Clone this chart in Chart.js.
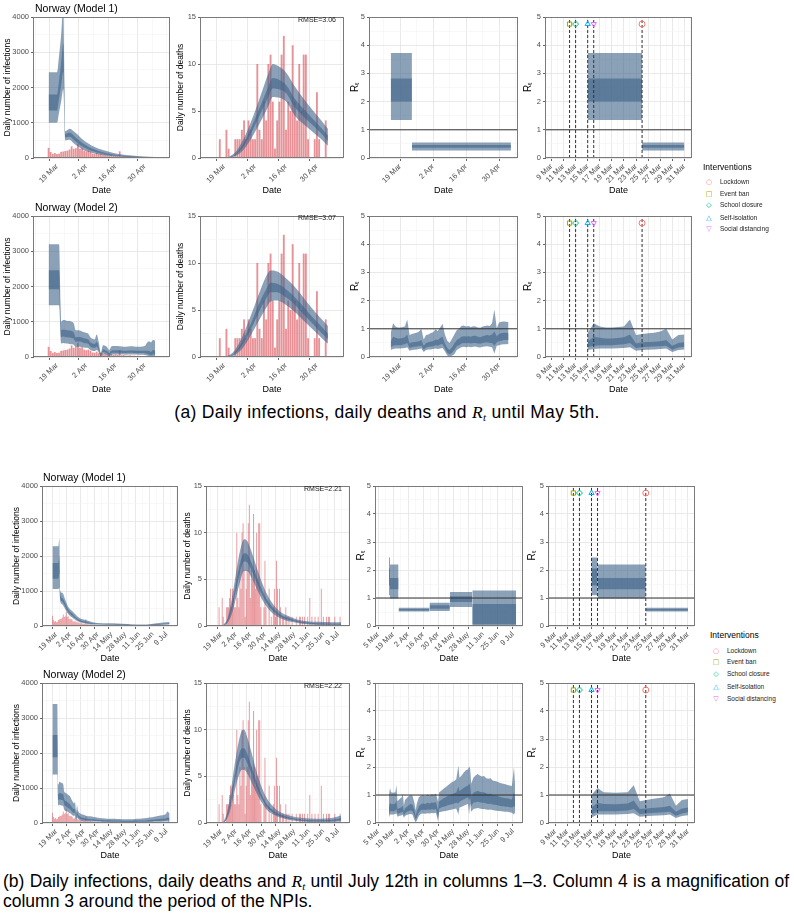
<!DOCTYPE html>
<html lang="en">
<head>
<meta charset="UTF-8">
<title>Norway: daily infections, deaths and Rt</title>
<script src="https://cdn.jsdelivr.net/npm/chart.js"></script>
<style>
  html, body { margin: 0; padding: 0; background: #fff; }
  body { position: relative; width: 794px; height: 919px; overflow: hidden; font-family: "Liberation Sans", Arial, sans-serif; }
  canvas { position: absolute; }
  .t { position: absolute; z-index: 2; white-space: nowrap; }
  .ptitle { font-size: 10.5px; line-height: 12px; color: #000; }
  .rmse { font-size: 7px; line-height: 8px; color: #1a1a1a; }
  .legtitle { font-size: 8.5px; line-height: 10px; color: #000; }
  .legitem { font-size: 6.5px; line-height: 8px; color: #1a1a1a; }
  .sym { position: absolute; z-index: 2; font-family: "DejaVu Sans", sans-serif; font-size: 7px; line-height: 8px; width: 10px; text-align: center; }
  .cap { position: absolute; font-size: 17.5px; letter-spacing: 0.3px; line-height: 20px; color: #000; white-space: nowrap; }
  .cap.b { letter-spacing: 0; }
  .cap i { font-family: "Liberation Serif", serif; }
  .cap sub { font-size: 11px; line-height: 0; vertical-align: -3px; }
</style>
</head>
<body>
<div class="t ptitle" style="left:35px;top:2px">Norway (Model 1)</div>
<div class="t ptitle" style="left:35px;top:201px">Norway (Model 2)</div>
<div class="t ptitle" style="left:43px;top:471px">Norway (Model 1)</div>
<div class="t ptitle" style="left:43px;top:668px">Norway (Model 2)</div>

<div class="t rmse" style="right:458px;top:16px">RMSE=3.06</div>
<div class="t rmse" style="right:458px;top:214px">RMSE=3.07</div>
<div class="t rmse" style="right:452px;top:485px">RMSE=2.21</div>
<div class="t rmse" style="right:452px;top:682px">RMSE=2.22</div>

<div class="cap" style="left:0;width:774px;top:402px;text-align:center">(a) Daily infections, daily deaths and <i>R<sub>t</sub></i> until May 5th.</div>
<div class="cap b" style="left:3px;width:786px;top:871px;text-align:justify;text-align-last:justify;white-space:normal">(b) Daily infections, daily deaths and <i>R<sub>t</sub></i> until July 12th in columns 1–3. Column 4 is a magnification of</div>
<div class="cap b" style="left:3px;top:891px">column 3 around the period of the NPIs.</div>

<script>
// day numbers: 0 = 1 March 2020
const obsStart = 14; // 15 Mar

// observed daily cases, 15 Mar .. 12 Jul
const cases = [
  290, 170, 120, 140, 110, 120, 175, 185, 200, 210,
  240, 330, 260, 280, 400, 260, 280, 210, 190, 210,
  180, 130, 120, 150, 110, 120, 90, 100, 80, 70,
  90, 60, 70, 60, 190, 50, 55, 45, 40, 50,
  35, 40, 30, 35, 30, 25, 30, 20, 25, 20,
  15, 20,
  18, 22, 15, 25, 12, 20, 16, 10, 18, 14,
  22, 12, 10, 15, 20, 8, 12, 16, 10, 14,
  9, 12, 18, 10, 8, 14, 11, 9, 12, 16,
  10, 7, 12, 9, 14, 10, 8, 11, 15, 9,
  12, 10, 8, 13, 11, 9, 14, 12, 10, 16,
  12, 18, 14, 11, 20, 15, 12, 18, 22, 14,
  16, 20, 12, 18, 24, 15, 20, 18
];

// observed daily deaths, 15 Mar .. 12 Jul
const deaths = [
  0, 0, 2, 0, 0, 3, 1, 0, 0, 2,
  2, 2, 3, 4, 2, 4, 3, 2, 2, 10,
  3, 2, 6, 4, 10, 11, 6, 1, 4, 6,
  11, 13, 3, 6, 5, 12, 6, 4, 10, 5,
  11, 11, 2, 0, 0, 2, 7, 2, 0, 0,
  4, 0,
  1, 0, 2, 4, 1, 7, 4, 0, 4, 2,
  0, 1, 1, 0, 2, 1, 0, 1, 0, 0,
  1, 0, 0, 0, 1, 0, 0, 1, 1, 0,
  1, 0, 1, 0, 0, 1, 0, 3, 0, 1,
  0, 0, 1, 0, 0, 1, 0, 0, 4, 0,
  1, 0, 0, 1, 0, 1, 1, 0, 0, 0,
  0, 1, 0, 0, 0, 0, 1, 0
];
const obsDaysA = 52;  // up to 5 May

// bands: [day, lower95, lower50, upper50, upper95]
const infM1a = [
  [14, 1000, 1350, 1800, 2430], [18, 1000, 1350, 1800, 2430], [19, 1300, 1700, 2200, 2900],
  [20, 1600, 2050, 2700, 3500], [21, 1950, 2450, 3250, 4300], [22, 500, 580, 680, 760],
  [24, 520, 600, 720, 830], [26, 420, 520, 640, 760], [28, 330, 420, 530, 660],
  [30, 250, 330, 430, 540], [33, 180, 240, 320, 410], [36, 130, 175, 240, 310],
  [40, 85, 115, 165, 225], [45, 50, 70, 100, 140], [50, 32, 45, 65, 90],
  [55, 20, 30, 45, 62], [60, 14, 20, 30, 42], [65, 8, 12, 18, 25]
];
const infM2a = [
  [14, 1466, 1920, 2459, 3196], [19, 1466, 1920, 2459, 3196], [20, 380, 560, 760, 1000],
  [21, 400, 580, 780, 1050], [22, 390, 570, 770, 1040], [23, 380, 560, 760, 1020],
  [24, 370, 550, 750, 1030], [25, 360, 540, 740, 1000], [26, 350, 520, 700, 960],
  [27, 280, 430, 560, 760], [28, 290, 440, 570, 760], [29, 290, 440, 570, 750],
  [30, 280, 420, 550, 720], [31, 270, 400, 530, 700], [32, 260, 390, 520, 680],
  [33, 250, 370, 500, 660], [34, 200, 300, 420, 560], [35, 180, 270, 380, 520],
  [36, 170, 260, 370, 500], [37, 200, 300, 430, 640], [38, 130, 190, 280, 420],
  [39, 10, 30, 60, 120], [40, 90, 140, 210, 330], [41, 80, 130, 200, 320],
  [42, 60, 100, 170, 280], [43, 30, 60, 110, 200], [44, 60, 110, 180, 300],
  [45, 70, 120, 190, 310], [47, 72, 122, 192, 315], [49, 70, 118, 186, 300],
  [51, 66, 112, 180, 290], [53, 70, 118, 186, 305], [55, 68, 115, 182, 300],
  [57, 64, 110, 176, 290], [59, 66, 112, 180, 300], [60, 60, 105, 175, 310],
  [61, 40, 90, 180, 400], [62, 20, 70, 180, 450], [63, 10, 50, 150, 420],
  [64, 20, 80, 200, 480], [65, 10, 60, 180, 460]
];
const infM1b = [
  [14, 1060, 1350, 1800, 2280], [20, 1060, 1350, 1800, 2280], [21, 1100, 1500, 2000, 2500],
  [22, 700, 800, 900, 1000], [24, 620, 700, 800, 950], [27, 480, 560, 650, 760],
  [30, 340, 400, 470, 550], [35, 220, 270, 330, 400], [40, 130, 160, 200, 260],
  [45, 85, 105, 140, 190], [50, 60, 80, 110, 150], [60, 40, 50, 65, 85],
  [70, 35, 45, 60, 80], [80, 30, 40, 55, 75], [90, 22, 30, 42, 60],
  [100, 15, 20, 30, 42], [110, 14, 20, 30, 44], [120, 25, 35, 55, 80],
  [133, 40, 55, 80, 115]
];
const infM2b = [
  [14, 1388, 1876, 2517, 3397], [19, 1388, 1876, 2517, 3397], [20, 500, 650, 820, 1100],
  [21, 520, 680, 860, 1180], [23, 500, 660, 840, 1150], [25, 480, 640, 820, 1100],
  [26, 380, 520, 680, 900], [28, 340, 470, 620, 850], [30, 310, 430, 580, 800],
  [32, 280, 390, 530, 760], [34, 230, 320, 440, 640], [36, 200, 280, 390, 560],
  [37, 220, 300, 420, 600], [38, 60, 120, 200, 320], [39, 150, 230, 330, 500],
  [40, 120, 170, 240, 360], [42, 80, 120, 180, 280], [45, 60, 95, 150, 240],
  [48, 50, 80, 130, 210], [52, 45, 70, 115, 190], [56, 40, 65, 105, 170],
  [60, 35, 55, 95, 150], [65, 30, 50, 85, 135], [70, 28, 45, 78, 125],
  [75, 25, 42, 72, 118], [80, 25, 40, 70, 115], [85, 22, 38, 66, 110],
  [90, 20, 36, 64, 108], [95, 20, 36, 64, 110], [100, 22, 38, 68, 118],
  [105, 24, 42, 74, 128], [110, 26, 46, 82, 145], [115, 30, 52, 92, 165],
  [120, 34, 58, 104, 190], [125, 38, 66, 118, 220], [129, 40, 72, 130, 250],
  [131, 45, 85, 160, 330], [132, 30, 70, 150, 300], [133, 40, 80, 150, 280]
];

const dthM1a = [
  [20, 0, 0, 0.05, 0.1], [23, 0.2, 0.3, 0.4, 0.6], [26, 0.7, 1.0, 1.3, 1.7],
  [29, 1.6, 2.1, 2.6, 3.2], [32, 2.8, 3.5, 4.2, 5.0], [35, 4.1, 5.0, 5.9, 7.0],
  [38, 5.5, 6.5, 7.6, 9.0], [40, 6.5, 7.4, 8.5, 10.0], [43, 6.4, 7.3, 8.3, 9.7],
  [46, 6.0, 6.9, 7.8, 9.1], [50, 4.5, 5.4, 6.3, 7.6], [54, 3.6, 4.4, 5.2, 6.3],
  [58, 2.8, 3.5, 4.2, 5.1], [62, 2.0, 2.6, 3.2, 4.0], [65, 1.3, 1.8, 2.4, 3.1]
];
const dthM2a = [
  [19, 0, 0, 0, 0.05], [22, 0.1, 0.2, 0.3, 0.5], [25, 0.6, 0.9, 1.2, 1.6],
  [28, 1.5, 2.0, 2.5, 3.2], [31, 2.7, 3.4, 4.1, 5.0], [34, 4.0, 4.9, 5.8, 6.9],
  [37, 5.2, 6.2, 7.2, 8.6], [39, 5.9, 6.9, 7.9, 9.2], [42, 6.0, 6.9, 7.8, 9.1],
  [45, 5.7, 6.5, 7.4, 8.6], [49, 5.0, 5.8, 6.6, 7.7], [53, 4.1, 4.8, 5.6, 6.6],
  [57, 3.2, 3.8, 4.5, 5.4], [61, 2.3, 2.8, 3.5, 4.3], [65, 1.4, 1.9, 2.5, 3.3]
];
const dthM1b = [
  [20, 0, 0, 0.05, 0.1], [24, 0.3, 0.45, 0.6, 0.8], [28, 1.2, 1.7, 2.2, 2.8],
  [32, 2.9, 3.7, 4.5, 5.5], [36, 4.7, 5.7, 6.7, 8.0], [40, 5.9, 6.9, 7.8, 9.3],
  [43, 5.9, 6.8, 7.7, 9.1], [47, 5.2, 6.0, 6.8, 8.0], [52, 4.0, 4.7, 5.3, 6.3],
  [57, 2.9, 3.4, 3.9, 4.7], [62, 2.0, 2.4, 2.8, 3.4], [68, 1.3, 1.6, 1.9, 2.3],
  [75, 0.8, 1.0, 1.2, 1.5], [85, 0.45, 0.6, 0.75, 0.95], [95, 0.25, 0.35, 0.45, 0.6],
  [110, 0.12, 0.2, 0.3, 0.45], [125, 0.08, 0.15, 0.25, 0.4], [133, 0.07, 0.14, 0.24, 0.4]
];
const dthM2b = [
  [20, 0, 0, 0.05, 0.1], [23, 0.3, 0.45, 0.6, 0.85], [26, 1.1, 1.5, 1.9, 2.5],
  [29, 2.4, 3.1, 3.8, 4.8], [32, 3.9, 4.9, 5.8, 7.0], [35, 5.1, 6.3, 7.3, 8.8],
  [38, 5.7, 7.0, 8.0, 9.9], [40, 5.7, 7.0, 8.0, 10.0], [43, 5.3, 6.4, 7.4, 9.2],
  [47, 4.4, 5.3, 6.1, 7.6], [52, 3.2, 3.8, 4.4, 5.5], [57, 2.2, 2.6, 3.0, 3.8],
  [62, 1.4, 1.7, 2.0, 2.6], [68, 0.9, 1.1, 1.35, 1.75], [75, 0.55, 0.7, 0.9, 1.15],
  [85, 0.3, 0.42, 0.55, 0.75], [95, 0.15, 0.25, 0.35, 0.55], [110, 0.1, 0.2, 0.3, 0.45],
  [125, 0.12, 0.22, 0.35, 0.55], [133, 0.15, 0.3, 0.5, 0.8]
];

// piecewise-constant Rt (model 1): [from, to, lower95, lower50, upper50, upper95]
const rtM1a = [
  [14, 23, 1.35, 2.0, 2.82, 3.72],
  [23, 65, 0.27, 0.36, 0.46, 0.55]
];
const rtM1b = [
  [14, 15, 1.10, 1.45, 2.05, 2.45],
  [15, 23, 0.98, 1.31, 1.71, 2.20],
  [23, 52, 0.52, 0.55, 0.61, 0.65],
  [52, 71, 0.54, 0.62, 0.74, 0.83],
  [71, 92, 0.68, 0.86, 1.06, 1.21],
  [92, 133, 0.04, 0.06, 0.79, 1.27]
];
// daily Rt (model 2): [day, lower95, lower50, upper50, upper95]
const rtM2a = [
  [14, 0.25, 0.35, 0.55, 0.85], [15, 0.28, 0.40, 0.72, 1.20], [16, 0.30, 0.42, 0.68, 1.08],
  [17, 0.30, 0.42, 0.66, 1.05], [18, 0.30, 0.42, 0.66, 1.05], [19, 0.31, 0.43, 0.67, 1.06],
  [20, 0.32, 0.45, 0.70, 1.08], [21, 0.35, 0.50, 0.80, 1.33], [22, 0.22, 0.32, 0.48, 0.78],
  [23, 0.25, 0.35, 0.52, 0.82], [24, 0.26, 0.36, 0.53, 0.84], [25, 0.27, 0.37, 0.54, 0.86],
  [26, 0.28, 0.38, 0.56, 0.90], [27, 0.30, 0.40, 0.60, 1.00], [28, 0.18, 0.26, 0.40, 0.62],
  [29, 0.25, 0.34, 0.50, 0.78], [30, 0.27, 0.36, 0.52, 0.80], [31, 0.27, 0.37, 0.55, 0.85],
  [32, 0.28, 0.38, 0.56, 0.88], [33, 0.30, 0.42, 0.62, 0.98], [34, 0.28, 0.40, 0.60, 0.92],
  [35, 0.30, 0.44, 0.68, 1.05], [36, 0.32, 0.46, 0.72, 1.18], [37, 0.20, 0.30, 0.48, 0.80],
  [38, 0.05, 0.15, 0.32, 0.58], [39, 0.02, 0.10, 0.25, 0.50], [40, 0.04, 0.15, 0.35, 0.65],
  [41, 0.10, 0.25, 0.48, 0.80], [42, 0.25, 0.38, 0.60, 0.95], [43, 0.30, 0.42, 0.65, 1.00],
  [44, 0.35, 0.48, 0.72, 1.10], [45, 0.36, 0.50, 0.74, 1.12], [46, 0.35, 0.49, 0.73, 1.08],
  [47, 0.36, 0.50, 0.74, 1.10], [48, 0.35, 0.48, 0.72, 1.06], [49, 0.36, 0.50, 0.75, 1.09],
  [50, 0.37, 0.50, 0.75, 1.08], [51, 0.35, 0.48, 0.72, 1.05], [52, 0.34, 0.47, 0.70, 1.04],
  [53, 0.36, 0.50, 0.74, 1.08], [54, 0.37, 0.51, 0.76, 1.10], [55, 0.38, 0.52, 0.78, 1.12],
  [56, 0.36, 0.50, 0.76, 1.10], [57, 0.35, 0.50, 0.80, 1.20], [58, 0.12, 0.40, 0.90, 1.68],
  [59, 0.40, 0.52, 0.74, 1.02], [60, 0.42, 0.56, 0.82, 1.22], [61, 0.44, 0.58, 0.85, 1.25],
  [62, 0.45, 0.60, 0.86, 1.26], [63, 0.45, 0.60, 0.86, 1.25], [64, 0.46, 0.60, 0.85, 1.24]
];
const rtM2b = [
  [14, 0.20, 0.30, 0.55, 1.00], [15, 0.30, 0.42, 0.72, 1.25], [16, 0.30, 0.42, 0.68, 1.10],
  [18, 0.30, 0.42, 0.67, 1.08], [20, 0.32, 0.45, 0.70, 1.10], [21, 0.35, 0.50, 0.80, 1.35],
  [22, 0.22, 0.32, 0.50, 0.78], [24, 0.26, 0.36, 0.54, 0.86], [26, 0.28, 0.38, 0.57, 0.92],
  [27, 0.30, 0.40, 0.62, 1.05], [28, 0.18, 0.26, 0.40, 0.62], [29, 0.25, 0.34, 0.52, 0.82],
  [30, 0.28, 0.38, 0.55, 0.86], [32, 0.30, 0.42, 0.62, 0.95], [34, 0.32, 0.45, 0.68, 1.00],
  [36, 0.30, 0.43, 0.66, 0.98], [38, 0.10, 0.25, 0.45, 0.70], [39, 0.03, 0.12, 0.25, 0.45],
  [40, 0.08, 0.20, 0.40, 0.68], [42, 0.25, 0.38, 0.60, 0.92], [44, 0.33, 0.46, 0.68, 0.98],
  [46, 0.34, 0.47, 0.70, 1.00], [48, 0.33, 0.46, 0.68, 0.96], [50, 0.35, 0.48, 0.72, 1.02],
  [52, 0.34, 0.47, 0.70, 0.98], [54, 0.36, 0.49, 0.73, 1.03], [56, 0.35, 0.48, 0.72, 1.00],
  [58, 0.37, 0.50, 0.75, 1.05], [60, 0.05, 0.20, 0.45, 0.75], [61, 0.38, 0.52, 0.78, 1.10],
  [63, 0.40, 0.55, 0.82, 1.15], [65, 0.42, 0.58, 0.88, 1.22], [67, 0.43, 0.60, 0.92, 1.28],
  [69, 0.45, 0.63, 0.96, 1.34], [71, 0.46, 0.65, 1.00, 1.40], [73, 0.48, 0.67, 1.03, 1.46],
  [75, 0.50, 0.70, 1.06, 1.50], [77, 0.52, 0.72, 1.10, 1.56], [79, 0.30, 0.70, 1.30, 2.05],
  [80, 0.55, 0.76, 1.14, 1.62], [82, 0.58, 0.80, 1.20, 1.70], [84, 0.62, 0.84, 1.26, 1.80],
  [86, 0.65, 0.88, 1.30, 1.88], [88, 0.68, 0.92, 1.34, 1.92], [89, 0.30, 0.80, 1.40, 2.02],
  [90, 0.70, 0.92, 1.34, 1.95], [91, 0.40, 0.60, 0.95, 1.40], [93, 0.50, 0.72, 1.08, 1.62],
  [95, 0.52, 0.74, 1.12, 1.70], [97, 0.54, 0.76, 1.15, 1.75], [99, 0.52, 0.74, 1.12, 1.70],
  [101, 0.50, 0.72, 1.10, 1.66], [103, 0.50, 0.72, 1.10, 1.68], [105, 0.48, 0.70, 1.06, 1.60],
  [107, 0.47, 0.68, 1.04, 1.58], [109, 0.48, 0.69, 1.05, 1.60], [111, 0.46, 0.66, 1.00, 1.52],
  [113, 0.45, 0.65, 0.98, 1.50], [115, 0.44, 0.64, 0.98, 1.48], [117, 0.43, 0.62, 0.95, 1.45],
  [119, 0.42, 0.60, 0.92, 1.42], [121, 0.41, 0.60, 0.90, 1.40], [123, 0.40, 0.58, 0.88, 1.38],
  [125, 0.40, 0.58, 0.88, 1.36], [127, 0.38, 0.56, 0.86, 1.34], [129, 0.37, 0.55, 0.84, 1.32],
  [131, 0.30, 0.60, 1.10, 2.00], [132, 0.38, 0.56, 0.86, 1.35]
];

// interventions
const ivNames = ['Lockdown', 'Event ban', 'School closure', 'Self-isolation', 'Social distancing'];
const ivDays = [23, 11, 12, 14, 15];
const ivMarkY = 4.75;

// axis ticks
const aTickDays = [18, 32, 46, 60];
const aTickLabels = ['19 Mar', '2 Apr', '16 Apr', '30 Apr'];
const aMinorDays = [11, 25, 39, 53, 67];
const bTickDays = [18, 32, 46, 60, 74, 88, 102, 116, 130];
const bTickLabels = ['19 Mar', '2 Apr', '16 Apr', '30 Apr', '14 May', '28 May', '11 Jun', '25 Jun', '9 Jul'];
const bRtTickDays = [4, 18, 32, 46, 60, 74, 88, 102, 116, 130];
const bRtTickLabels = ['5 Mar', '19 Mar', '2 Apr', '16 Apr', '30 Apr', '14 May', '28 May', '11 Jun', '25 Jun', '9 Jul'];
const bMinorDays = [11, 25, 39, 53, 67, 81, 95, 109, 123, 137];
const zTickDays = [8, 10, 12, 14, 16, 18, 20, 22, 24, 26, 28, 30];
const zTickLabels = ['9 Mar', '11 Mar', '13 Mar', '15 Mar', '17 Mar', '19 Mar', '21 Mar', '23 Mar', '25 Mar', '27 Mar', '29 Mar', '31 Mar'];
const zMinorDays = [7, 9, 11, 13, 15, 17, 19, 21, 23, 25, 27, 29, 31];
const zLastDay = 30;

const infTicks = [0, 1000, 2000, 3000, 4000], infMinor = [500, 1500, 2500, 3500];
const dthTicks = [0, 5, 10, 15], dthMinor = [2.5, 7.5, 12.5];
const rtTicks = [0, 1, 2, 3, 4, 5], rtMinor = [0.5, 1.5, 2.5, 3.5, 4.5];

// ---- styles ----
const BAND = 'rgba(62, 98, 136, 0.6)';
const BAR = 'rgba(214, 56, 66, 0.55)';
const ivColors = ['#F8766D', '#A3A500', '#00BF7D', '#00B0F6', '#E76BF3'];
const ivStyles = ['circle', 'rect', 'rectRot', 'triangle', 'triangle'];
const ivRot = [0, 0, 0, 0, 180];
const ivSyms = ['\u25CB', '\u25A1', '\u25C7', '\u25B3', '\u25BD'];

Chart.defaults.font.family = '"Liberation Sans", Arial, sans-serif';

const frame = {
  id: 'frame',
  afterDatasetsDraw(chart) {
    const a = chart.chartArea, ctx = chart.ctx;
    ctx.save();
    ctx.strokeStyle = '#7a7a7a';
    ctx.lineWidth = 1;
    ctx.strokeRect(Math.round(a.left) - 0.5, Math.round(a.top) + 0.5, Math.round(a.right - a.left) + 1, Math.round(a.bottom - a.top) - 1);
    ctx.restore();
  }
};

function edge(data, fillCol, order, smooth) {
  return {
    type: 'line', data, order,
    borderColor: 'rgba(0,0,0,0)', borderWidth: 0, pointRadius: 0,
    fill: fillCol ? '-1' : false, backgroundColor: fillCol || 'rgba(0,0,0,0)',
    tension: 0, cubicInterpolationMode: smooth ? 'monotone' : 'default'
  };
}

function bandSets(rows, smooth, lastDay) {
  const r = lastDay == null ? rows : rows.filter(p => p[0] <= lastDay);
  const col = k => r.map(p => ({x: p[0], y: p[k]}));
  return [
    edge(col(1), null, 4, smooth), edge(col(4), BAND, 4, smooth),
    edge(col(2), null, 3, smooth), edge(col(3), BAND, 3, smooth)
  ];
}

function stepSets(segs, lastDay) {
  const out = [];
  segs.forEach(s => {
    let [a, b] = s;
    if (lastDay != null) { if (a >= lastDay) return; b = Math.min(b, lastDay); }
    const seg = v => [{x: a, y: v}, {x: b, y: v}];
    out.push(edge(seg(s[2]), null, 4), edge(seg(s[5]), BAND, 4),
             edge(seg(s[3]), null, 3), edge(seg(s[4]), BAND, 3));
  });
  return out;
}

function barSet(vals, n) {
  return {
    type: 'bar', order: 9,
    data: vals.slice(0, n).map((v, i) => ({x: obsStart + i, y: v})),
    backgroundColor: BAR, borderWidth: 0, barPercentage: 0.85, categoryPercentage: 1
  };
}

function hline(ax) {
  return { type: 'line', order: 0, data: [{x: ax.min, y: 1}, {x: ax.max, y: 1}],
    borderColor: '#333', borderWidth: 1, pointRadius: 0, fill: false };
}

function ivSets() {
  const out = [];
  ivDays.forEach((d, i) => {
    out.push({ type: 'line', order: 2, data: [{x: d, y: 0}, {x: d, y: 5}],
      borderColor: '#333', borderWidth: 1, borderDash: [3, 2], pointRadius: 0, fill: false });
    out.push({ type: 'line', order: 1, showLine: false, data: [{x: d, y: ivMarkY}],
      pointStyle: ivStyles[i], pointRotation: ivRot[i], pointRadius: 3,
      pointBorderColor: ivColors[i], pointBackgroundColor: 'rgba(255,255,255,0)', pointBorderWidth: 1 });
  });
  return out;
}

function gridOpts(major) {
  const isMajor = c => c.tick && major.has(c.tick.value);
  return {
    color: c => isMajor(c) ? '#e6e6e6' : '#f3f3f3',
    lineWidth: c => isMajor(c) ? 0.9 : 0.6,
    tickColor: c => isMajor(c) ? '#555' : 'rgba(0,0,0,0)',
    tickLength: 3
  };
}

function xScale(ax, xH) {
  const major = new Set(ax.ticks);
  return {
    type: 'linear', min: ax.min, max: ax.max, bounds: 'data',
    afterBuildTicks: s => {
      s.ticks = ax.ticks.concat(ax.minor).filter(v => v >= ax.min && v <= ax.max)
        .sort((p, q) => p - q).map(v => ({value: v}));
    },
    afterFit: s => { s.height = xH; s.paddingLeft = 0; s.paddingRight = 0; },
    ticks: {
      autoSkip: false, minRotation: 45, maxRotation: 45, padding: 1,
      color: '#4d4d4d', font: {size: 7.5},
      callback: v => { const i = ax.ticks.indexOf(v); return i < 0 ? '' : ax.labels[i]; }
    },
    grid: gridOpts(major),
    border: {display: false},
    title: {display: true, text: 'Date', color: '#000', font: {size: 9}, padding: {top: 0, bottom: 0}}
  };
}

function yScale(ax, yW, title, tSize) {
  const major = new Set(ax.ticks);
  return {
    type: 'linear', min: ax.min, max: ax.max, bounds: 'data',
    afterBuildTicks: s => {
      s.ticks = ax.ticks.concat(ax.minor).sort((p, q) => p - q).map(v => ({value: v}));
    },
    afterFit: s => { s.width = yW; s.paddingTop = 0; s.paddingBottom = 0; },
    ticks: { padding: 2, color: '#4d4d4d', font: {size: 7.5}, callback: v => major.has(v) ? String(v) : '' },
    grid: gridOpts(major),
    border: {display: false},
    title: {display: true, text: title, color: '#000', font: {size: tSize}, padding: {top: 0, bottom: 0}}
  };
}

const pT = 8, pR = 8, xH = 38;
function panel(g, xAx, yAx, yTitle, tSize, sets) {
  const cv = document.createElement('canvas');
  const w = g.yW + (g.R - g.L) + pR, h = pT + (g.B - g.T) + xH;
  cv.width = w; cv.height = h;
  cv.style.left = (g.L - g.yW) + 'px';
  cv.style.top = (g.T - pT) + 'px';
  cv.style.width = w + 'px';
  cv.style.height = h + 'px';
  document.body.appendChild(cv);
  new Chart(cv, {
    type: 'line',
    data: {datasets: sets},
    options: {
      responsive: false, animation: false, events: [],
      layout: {autoPadding: false, padding: {top: pT, right: pR, left: 0, bottom: 0}},
      plugins: {legend: {display: false}, tooltip: {enabled: false}},
      scales: {x: xScale(xAx, xH), y: yScale(yAx, g.yW, yTitle, tSize)}
    },
    plugins: [frame]
  });
}

// axes
const infY = {min: 0, max: 4000, ticks: infTicks, minor: infMinor};
const dthY = {min: 0, max: 15, ticks: dthTicks, minor: dthMinor};
const rtY = {min: 0, max: 5, ticks: rtTicks, minor: rtMinor};
const aInfX = {min: 10.6, max: 68, ticks: aTickDays, labels: aTickLabels, minor: aMinorDays};
const aDthX = {min: 11.5, max: 67.8, ticks: aTickDays, labels: aTickLabels, minor: aMinorDays};
const aRtX = {min: 5.2, max: 67.6, ticks: aTickDays, labels: aTickLabels, minor: aMinorDays};
const aZX = {min: 7.1, max: 31.1, ticks: zTickDays, labels: zTickLabels, minor: zMinorDays};
const bInfX = {min: 8, max: 137, ticks: bTickDays, labels: bTickLabels, minor: bMinorDays};
const bDthX = {min: 8, max: 137, ticks: bTickDays, labels: bTickLabels, minor: bMinorDays};
const bRtX = {min: 1.9, max: 138.5, ticks: bRtTickDays, labels: bRtTickLabels, minor: bMinorDays};
const bZX = {min: 6.95, max: 31.0, ticks: zTickDays, labels: zTickLabels, minor: zMinorDays};

// layout of panels
const rowsY = [{T: 17, B: 158}, {T: 216, B: 357}, {T: 486, B: 626}, {T: 683, B: 823}];
const colsA = [{L: 34, R: 169, yW: 31}, {L: 201, R: 343, yW: 25}, {L: 370, R: 517, yW: 21}, {L: 546, R: 691, yW: 24}];
const colsB = [{L: 43, R: 177, yW: 31}, {L: 207, R: 349, yW: 24}, {L: 376, R: 522, yW: 21}, {L: 549, R: 694, yW: 23}];
const G = (r, c) => Object.assign({}, rowsY[r], c);

const INF = 'Daily number of infections', DTH = 'Daily number of deaths', RT = 'R\u209C';

// block (a)
[[infM1a, dthM1a, 'step', rtM1a], [infM2a, dthM2a, 'daily', rtM2a]].forEach((m, r) => {
  panel(G(r, colsA[0]), aInfX, infY, INF, 8.5, [barSet(cases, obsDaysA), ...bandSets(m[0], true)]);
  panel(G(r, colsA[1]), aDthX, dthY, DTH, 8.5, [barSet(deaths, obsDaysA), ...bandSets(m[1], true)]);
  const rt3 = m[2] === 'step' ? stepSets(m[3]) : bandSets(m[3], false);
  panel(G(r, colsA[2]), aRtX, rtY, RT, 10, [hline(aRtX), ...rt3]);
  const rt4 = m[2] === 'step' ? stepSets(m[3], zLastDay) : bandSets(m[3], false, zLastDay);
  panel(G(r, colsA[3]), aZX, rtY, RT, 10, [hline(aZX), ...ivSets(), ...rt4]);
});

// block (b)
[[infM1b, dthM1b, 'step', rtM1b], [infM2b, dthM2b, 'daily', rtM2b]].forEach((m, i) => {
  const r = i + 2;
  panel(G(r, colsB[0]), bInfX, infY, INF, 8.5, [barSet(cases, cases.length), ...bandSets(m[0], true)]);
  panel(G(r, colsB[1]), bDthX, dthY, DTH, 8.5, [barSet(deaths, deaths.length), ...bandSets(m[1], true)]);
  const rt3 = m[2] === 'step' ? stepSets(m[3]) : bandSets(m[3], false);
  panel(G(r, colsB[2]), bRtX, rtY, RT, 10, [hline(bRtX), ...rt3]);
  const rt4 = m[2] === 'step' ? stepSets(m[3], zLastDay) : bandSets(m[3], false, zLastDay);
  panel(G(r, colsB[3]), bZX, rtY, RT, 10, [hline(bZX), ...ivSets(), ...rt4]);
});

// intervention legends
function legend(x, yTitle, yItems, symX, textX) {
  const t = document.createElement('div');
  t.className = 't legtitle';
  t.style.left = x + 'px'; t.style.top = (yTitle - 5) + 'px';
  t.textContent = 'Interventions';
  document.body.appendChild(t);
  ivNames.forEach((n, i) => {
    const s = document.createElement('div');
    s.className = 'sym';
    s.style.left = (symX - 5) + 'px'; s.style.top = (yItems[i] - 4) + 'px';
    s.style.color = ivColors[i];
    s.textContent = ivSyms[i];
    document.body.appendChild(s);
    const l = document.createElement('div');
    l.className = 't legitem';
    l.style.left = textX + 'px'; l.style.top = (yItems[i] - 4) + 'px';
    l.textContent = n;
    document.body.appendChild(l);
  });
}
legend(703, 167, [181.7, 193.5, 205.3, 217.5, 229.3], 709, 720);
legend(710, 635, [650.7, 662.3, 674.3, 686.7, 698.7], 716, 727);
</script>
</body>
</html>
